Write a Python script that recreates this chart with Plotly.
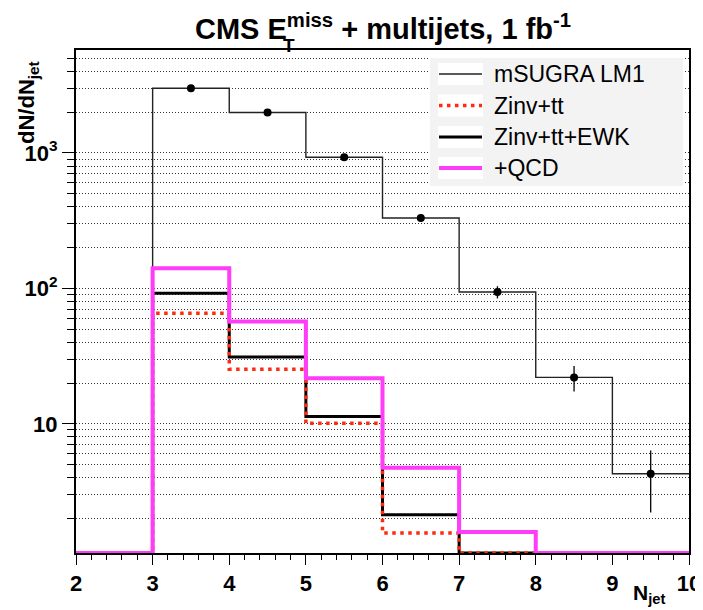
import plotly.graph_objects as go

# N_jet binning
bin_edges = [2, 3, 4, 5, 6, 7, 8, 9, 10]
bin_centres = [2.5, 3.5, 4.5, 5.5, 6.5, 7.5, 8.5, 9.5]

# dN/dN_jet per bin (0 = empty bin)
msugra_lm1 = [0, 3000, 1990, 930, 331, 94, 22.0, 4.28]
msugra_err = [0, 55, 45, 30, 18, 9.7, 4.7, 2.07]
zinv_tt = [0, 65.6, 25.3, 10.1, 1.56, 0, 0, 0]
zinv_tt_ewk = [0, 92.2, 31.1, 11.3, 2.13, 0, 0, 0]
plus_qcd = [0, 141, 56.9, 21.7, 4.73, 1.59, 0, 0]

legend_labels = ["mSUGRA LM1", "Zinv+tt", "Zinv+tt+EWK", "+QCD"]

# log10 range of the y axis
y_range = [0.046, 3.760]
y_floor = 10 ** y_range[0]   # empty bins get drawn on the bottom of the frame, like ROOT

FONT = "Liberation Sans"
PAGE_MARGIN = 8   # the html body adds 8px around the figure


def step(values):
    ys = [v if v > 0 else y_floor for v in values]
    return bin_edges, ys + [ys[-1]]


# page pixel -> paper helpers (plot area on the page: x 76..689, y 50..553)
def fx(px):
    return (px - 76) / 613


def fy(py):
    return (553 - py) / 503


styles = [
    dict(color="#222222", width=1.4),
    dict(color="#ff2a10", width=3.5, dash="3.5px,4.5px"),
    dict(color="black", width=3),
    dict(color="#ff3cf8", width=4),
]

fig = go.Figure()

series = [msugra_lm1, zinv_tt_ewk, zinv_tt, plus_qcd]
series_style = [styles[0], styles[2], styles[1], styles[3]]
for vals, st in zip(series, series_style):
    xs, ys = step(vals)
    fig.add_trace(go.Scatter(x=xs, y=ys, mode="lines", line=dict(shape="hv", **st),
                             showlegend=False, hoverinfo="skip"))

# mSUGRA points with stat. errors
pts = [(c, v, e) for c, v, e in zip(bin_centres, msugra_lm1, msugra_err) if v > 0]
fig.add_trace(go.Scatter(
    x=[p[0] for p in pts], y=[p[1] for p in pts], mode="markers",
    marker=dict(color="black", size=8),
    error_y=dict(type="data", array=[p[2] for p in pts], color="black", thickness=1.3, width=0),
    showlegend=False))

minor_vals = [m * 10 ** e for e in range(4) for m in range(2, 10)]

fig.update_xaxes(range=[2, 10], tick0=2, dtick=1, ticks="outside", ticklen=10, tickwidth=1.3,
                 tickcolor="black", showline=True, mirror=True, linecolor="black", linewidth=2,
                 showgrid=False, zeroline=False, layer="below traces",
                 tickfont=dict(family=FONT, size=22, weight="bold", color="black"),
                 minor=dict(dtick=0.2, ticks="outside", ticklen=5, tickwidth=1, tickcolor="black"))

fig.update_yaxes(type="log", range=y_range, tickvals=[10, 100, 1000],
                 ticktext=["10", "10<sup>2</sup>", "10<sup>3</sup>"],
                 ticks="outside", ticklen=12, tickwidth=1.3, tickcolor="black",
                 showline=True, mirror=True, linecolor="black", linewidth=2,
                 showgrid=True, gridcolor="#333333", gridwidth=1, griddash="1px,2px",
                 zeroline=False, layer="below traces",
                 tickfont=dict(family=FONT, size=22, weight="bold", color="black"),
                 minor=dict(tickvals=minor_vals, ticks="outside", ticklen=7, tickwidth=1,
                            tickcolor="black", showgrid=True, gridcolor="#333333",
                            gridwidth=1, griddash="1px,2px"))

annotations = [
    dict(text="<b>CMS E<sup>miss</sup> + multijets, 1 fb<sup>-1</sup></b>", x=0.5, y=fy(27.5),
         xanchor="center", yanchor="middle", font=dict(size=29)),
    dict(text="<b>T</b>", x=fx(289), y=fy(46), xanchor="center", yanchor="middle",
         font=dict(size=19)),
    dict(text="<b>dN/dN<sub>jet</sub></b>", x=fx(28), y=fy(103), textangle=-90,
         xanchor="center", yanchor="middle", font=dict(size=22)),
    dict(text="<b>N<sub>jet</sub></b>", x=fx(667), y=fy(594), xanchor="right",
         yanchor="middle", font=dict(size=21)),
]

# legend box drawn by hand, ROOT style
shapes = [dict(type="rect", xref="paper", yref="paper", x0=fx(430), x1=fx(683),
               y0=fy(186), y1=fy(58), fillcolor="#f3f3f3", line=dict(width=0), layer="above")]
row_y = [74, 105.5, 137, 168]
for lab, st, ry in zip(legend_labels, styles, row_y):
    shapes.append(dict(type="rect", xref="paper", yref="paper", x0=fx(438), x1=fx(483),
                       y0=fy(ry + 11), y1=fy(ry - 11), fillcolor="white",
                       line=dict(width=0), layer="above"))
    shapes.append(dict(type="line", xref="paper", yref="paper", x0=fx(439), x1=fx(482),
                       y0=fy(ry), y1=fy(ry), line=st, layer="above"))
    annotations.append(dict(text=lab, x=fx(492), y=fy(ry), xanchor="left", yanchor="middle",
                            font=dict(size=23)))

for a in annotations:
    a.update(xref="paper", yref="paper", showarrow=False)
    a["font"].update(family=FONT, color="black")

fig.update_layout(width=703 - PAGE_MARGIN, height=610 - PAGE_MARGIN,
                  margin=dict(l=76 - PAGE_MARGIN, r=14, t=50 - PAGE_MARGIN, b=57,
                              autoexpand=False),
                  plot_bgcolor="white", paper_bgcolor="white", showlegend=False,
                  font=dict(family=FONT, color="black"),
                  annotations=annotations, shapes=shapes)

fig.write_html("out.html")
